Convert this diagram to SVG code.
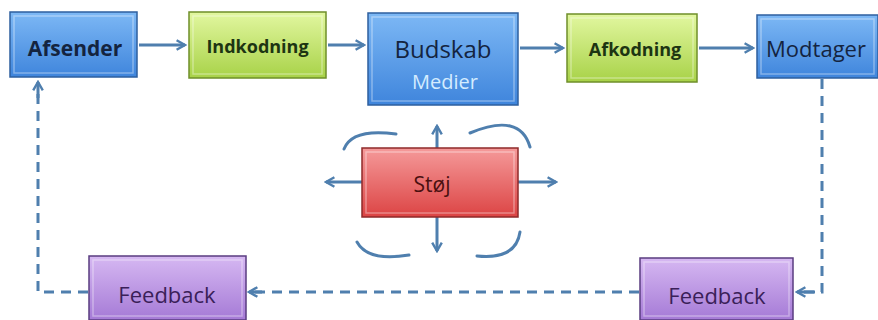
<svg xmlns="http://www.w3.org/2000/svg" width="878" height="320" viewBox="0 0 878 320">
<defs>
<linearGradient id="gb" x1="0" y1="0" x2="0" y2="1"><stop offset="0" stop-color="#7db8f5"/><stop offset="1" stop-color="#3f85dc"/></linearGradient>
<linearGradient id="gg" x1="0" y1="0" x2="0" y2="1"><stop offset="0" stop-color="#e2f7a0"/><stop offset="1" stop-color="#a8d248"/></linearGradient>
<linearGradient id="gr" x1="0" y1="0" x2="0" y2="1"><stop offset="0" stop-color="#f59a9a"/><stop offset="1" stop-color="#dc4444"/></linearGradient>
<linearGradient id="gp" x1="0" y1="0" x2="0" y2="1"><stop offset="0" stop-color="#d6b8f2"/><stop offset="1" stop-color="#a57ad6"/></linearGradient>
<marker id="ah" viewBox="0 0 10 10" refX="8" refY="5" markerWidth="4" markerHeight="4" orient="auto-start-reverse"><path d="M1,1 L8,5 L1,9" fill="none" stroke="#4f7fae" stroke-width="2"/></marker>
</defs>
<style>
.blue{fill:url(#gb);stroke:#2e5f9e;stroke-width:1.5}
.green{fill:url(#gg);stroke:#6f8f2a;stroke-width:1.5}
.red{fill:url(#gr);stroke:#8f2a2a;stroke-width:1.5}
.purple{fill:url(#gp);stroke:#5a3d80;stroke-width:1.5}
.bevel{fill:none;stroke:#ffffff;stroke-opacity:0.35;stroke-width:1.5}
.t{font-family:"Open Sans","DejaVu Sans",sans-serif;text-anchor:middle;dominant-baseline:central}
.con{fill:none;stroke:#4f7fae;stroke-width:3}
.dash{fill:none;stroke:#4f7fae;stroke-width:3;stroke-dasharray:10 7}
.arc{fill:none;stroke:#4f7fae;stroke-width:3;stroke-linecap:round}
</style>
<rect width="878" height="320" fill="#ffffff"/>
<g id="connectors">
<line class="con" x1="139" y1="45" x2="185" y2="45" marker-end="url(#ah)"/>
<line class="con" x1="328" y1="45" x2="364" y2="45" marker-end="url(#ah)"/>
<line class="con" x1="520" y1="48" x2="563" y2="48" marker-end="url(#ah)"/>
<line class="con" x1="699" y1="48" x2="753" y2="48" marker-end="url(#ah)"/>
<path class="dash" d="M822,79 V292 H797" />
<line class="con" x1="815" y1="292" x2="797" y2="292" marker-end="url(#ah)"/>
<line class="dash" x1="639" y1="292" x2="250" y2="292"/>
<line class="con" x1="262" y1="292" x2="249" y2="292" marker-end="url(#ah)"/>
<path class="dash" d="M88,292 H38 V88"/>
<line class="con" x1="38" y1="98" x2="38" y2="82" marker-end="url(#ah)"/>
<line class="con" x1="437" y1="148" x2="437" y2="126" marker-end="url(#ah)"/>
<line class="con" x1="437" y1="217" x2="437" y2="251" marker-end="url(#ah)"/>
<line class="con" x1="362" y1="182" x2="326" y2="182" marker-end="url(#ah)"/>
<line class="con" x1="518" y1="182" x2="556" y2="182" marker-end="url(#ah)"/>
<path class="arc" d="M344,149 Q352,128 396,134"/>
<path class="arc" d="M470,133 Q520,112 530,147"/>
<path class="arc" d="M357,242 Q368,262 409,255"/>
<path class="arc" d="M477,256 Q516,260 520,232"/>
</g>
<g id="afsender">
<rect class="blue" x="10" y="12" width="127" height="65"/>
<rect class="bevel" x="14" y="16" width="119" height="57"/>
<text class="t" x="75" y="48" font-size="21" font-weight="bold" fill="#14243f">Afsender</text>
</g>
<g id="indkodning">
<rect class="green" x="189" y="12" width="137" height="66"/>
<rect class="bevel" x="193" y="16" width="129" height="58"/>
<text class="t" x="257.5" y="46" font-size="18" font-weight="bold" fill="#1d3512">Indkodning</text>
</g>
<g id="budskab">
<rect class="blue" x="368" y="13" width="150" height="92"/>
<rect class="bevel" x="372" y="17" width="142" height="84"/>
<text class="t" x="443" y="48" font-size="24" fill="#14243f">Budskab</text>
<text class="t" x="445" y="81" font-size="20" fill="#d4ecff">Medier</text>
</g>
<g id="afkodning">
<rect class="green" x="567" y="14" width="130" height="68"/>
<rect class="bevel" x="571" y="18" width="122" height="60"/>
<text class="t" x="635" y="49" font-size="18" font-weight="bold" fill="#1d3512">Afkodning</text>
</g>
<g id="modtager">
<rect class="blue" x="757" y="15" width="121" height="63"/>
<rect class="bevel" x="761" y="19" width="113" height="55"/>
<text class="t" x="816" y="48" font-size="22" fill="#14243f">Modtager</text>
</g>
<g id="stoj">
<rect class="red" x="362" y="148" width="156" height="69"/>
<rect class="bevel" x="366" y="152" width="148" height="61"/>
<text class="t" x="432" y="184" font-size="21" fill="#4a1010">Støj</text>
</g>
<g id="feedback-left">
<rect class="purple" x="89" y="256" width="157" height="64"/>
<rect class="bevel" x="93" y="260" width="149" height="56"/>
<text class="t" x="167" y="294" font-size="22" fill="#3a2058">Feedback</text>
</g>
<g id="feedback-right">
<rect class="purple" x="640" y="258" width="153" height="62"/>
<rect class="bevel" x="644" y="262" width="145" height="54"/>
<text class="t" x="717" y="295" font-size="22" fill="#3a2058">Feedback</text>
</g>
</svg>
